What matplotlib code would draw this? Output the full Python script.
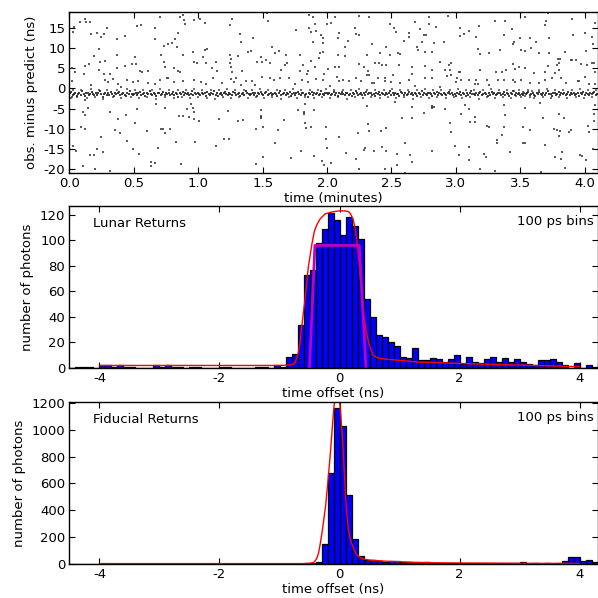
import numpy as np
import matplotlib
matplotlib.use('Agg')
import matplotlib.pyplot as plt

plt.rcParams['axes.unicode_minus'] = False
plt.rcParams['font.family'] = 'DejaVu Sans'
plt.rcParams['font.size'] = 9.5

# ---- top panel: obs. minus predict vs time (minutes) ----
# sparse background returns, (time, residual)
noise_pts = [
    (0.084, 16.5), (0.123, 17.1), (0.130, 16.4), (0.161, 16.4), (0.035, 15.3), (0.027, 14.0), (0.169, 13.5),
    (0.213, 13.8), (0.247, 12.8), (0.265, 13.4), (0.293, 14.9), (0.371, 12.2), (0.433, 13.0), (0.524, 15.5),
    (0.557, 15.7), (0.666, 15.0), (0.700, 17.6), (0.858, 17.6), (0.881, 18.1), (0.889, 16.9), (0.899, 15.9),
    (0.969, 16.9), (1.015, 17.1), (1.054, 16.1), (1.243, 15.7), (1.261, 17.1), (1.323, 13.5), (1.329, 11.4),
    (1.424, 12.4), (1.536, 18.8), (1.541, 16.8), (1.756, 14.5), (1.857, 18.3), (1.890, 17.6), (1.903, 15.9),
    (1.857, 14.9), (1.877, 14.0), (1.916, 14.3), (1.955, 13.2), (1.968, 12.4), (1.968, 11.2), (1.890, 11.4),
    (2.001, 15.9), (2.032, 16.3), (0.842, 13.8), (0.816, 12.2), (0.764, 11.0), (0.731, 10.5), (0.663, 12.2),
    (0.795, 11.2), (0.837, 10.3),
    (0.229, 9.8), (0.190, 8.1), (0.368, 8.3), (0.239, 6.5), (0.278, 6.9), (0.117, 5.6), (0.151, 6.0),
    (0.019, 5.0), (0.040, 4.1), (0.112, 3.7), (0.229, 4.6), (0.265, 3.7), (0.312, 3.7), (0.371, 5.0),
    (0.428, 5.6), (0.485, 6.0), (0.506, 7.9), (0.519, 6.0), (0.544, 4.4), (0.563, 4.0), (0.609, 4.4),
    (0.707, 8.3), (0.733, 6.6), (0.744, 5.4), (0.764, 2.5), (0.811, 5.0), (0.842, 4.4), (0.855, 4.1),
    (0.881, 8.3), (0.961, 9.1), (0.966, 6.6), (0.992, 6.2), (1.036, 7.9), (1.054, 9.5), (1.070, 9.8),
    (1.062, 6.2), (1.106, 5.0), (1.140, 6.6), (1.147, 4.4), (1.246, 8.3), (1.251, 7.3), (1.243, 6.2),
    (1.256, 5.2), (1.261, 4.1), (1.308, 8.1), (1.339, 4.4), (1.386, 9.1), (1.411, 9.3), (1.455, 6.6),
    (1.484, 7.9), (1.497, 6.6), (1.528, 7.0), (1.554, 6.2), (1.574, 10.2), (1.598, 8.7), (1.626, 9.3),
    (1.644, 4.6), (1.675, 5.8), (1.691, 6.2), (1.683, 8.4), (1.787, 8.3), (1.813, 5.8), (1.787, 4.3),
    (1.846, 3.7), (1.851, 4.4), (1.877, 6.9), (1.903, 5.2), (1.934, 7.5), (1.942, 8.7), (1.968, 9.1),
    (2.007, 4.7), (1.976, 3.5),
    (0.019, 1.8), (0.164, 0.8), (0.273, 2.1), (0.299, 1.7), (0.337, 2.3), (0.376, 1.1), (0.402, 0.4),
    (0.449, 2.1), (0.493, 1.7), (0.531, 1.9), (0.609, 1.3), (0.666, 1.1), (0.700, 2.1), (0.759, 2.5),
    (0.811, 1.7), (0.881, 1.9), (0.966, 2.1), (1.018, 1.7), (1.062, 1.1), (1.114, 2.5), (1.186, 1.3),
    (1.256, 2.3), (1.277, 1.7), (1.295, 2.5), (1.334, 0.8), (1.373, 1.8), (1.417, 1.8), (1.437, 0.8),
    (1.497, 2.9), (1.554, 2.5), (1.587, 2.2), (1.636, 2.5), (1.701, 2.5), (1.748, 1.1), (1.805, 2.2),
    (1.851, 1.7), (1.916, 2.3), (1.968, 2.1), (2.020, 0.6),
    (0.019, -2.0), (0.117, -2.9), (0.143, -4.9), (0.104, -5.8), (0.123, -6.6), (0.312, -5.8), (0.376, -7.6),
    (0.441, -6.6), (0.524, -5.1), (0.674, -3.9), (0.744, -4.8), (0.847, -6.8), (0.881, -6.8), (0.915, -5.1),
    (0.940, -3.9), (0.959, -4.9), (0.966, -5.8), (0.925, -7.0), (0.964, -7.6), (1.005, -8.1), (1.158, -7.6),
    (1.230, -5.6), (1.308, -8.0), (1.347, -7.8), (1.484, -5.3), (1.484, -7.0), (1.486, -6.7), (1.489, -7.4),
    (1.665, -7.7), (1.774, -5.3), (1.818, -5.8), (1.820, -6.2), (1.819, -6.0), (1.831, -3.9), (1.898, -5.3),
    (0.092, -9.5), (0.117, -10.0), (0.247, -12.0), (0.356, -10.3), (0.389, -11.1), (0.511, -8.6),
    (0.604, -10.5), (0.707, -10.1), (0.726, -10.1), (0.739, -11.1), (0.777, -10.0), (1.199, -12.4),
    (1.238, -12.4), (1.450, -10.0), (1.502, -9.5), (1.618, -10.3), (1.826, -8.6), (1.839, -9.9),
    (1.872, -9.6), (1.994, -9.5), (1.994, -12.4), (0.027, -14.2), (0.053, -15.4), (0.156, -16.5),
    (0.187, -16.5), (0.216, -15.0), (0.260, -15.7), (0.449, -12.9), (0.493, -15.1), (0.537, -16.1),
    (0.687, -14.8), (0.829, -13.2), (0.971, -13.2), (1.140, -14.2), (1.502, -16.9), (1.593, -13.6),
    (1.722, -17.3), (1.800, -15.6), (1.898, -16.7), (2.001, -14.8), (1.960, -17.9), (1.976, -19.0),
    (2.032, -18.4), (0.104, -19.2), (0.195, -19.9), (0.312, -20.4), (0.635, -18.3), (0.661, -18.5),
    (0.635, -19.2), (0.868, -18.7), (1.450, -18.7),
    (2.064, 17.8), (2.250, 17.9), (2.323, 17.6), (2.491, 15.9), (2.517, 14.9), (2.537, 14.0), (2.680, 16.5),
    (2.789, 17.6), (2.789, 15.9), (2.750, 13.2), (2.770, 13.2), (2.737, 11.6), (2.724, 14.7), (2.848, 15.3),
    (2.939, 18.0), (3.029, 14.9), (3.029, 13.0), (3.060, 13.6), (3.099, 14.3), (3.156, 12.8), (3.177, 15.4),
    (3.306, 16.8), (3.384, 16.8), (3.371, 13.2), (3.436, 14.6), (3.448, 11.4), (3.500, 12.4), (3.578, 12.4),
    (3.534, 17.6), (3.715, 18.7), (3.699, 16.8), (3.694, 15.7), (3.720, 12.4), (3.901, 17.2), (3.907, 13.2),
    (4.005, 13.8), (4.057, 12.8), (4.077, 16.3), (4.064, 10.9), (2.090, 13.8), (2.085, 12.4), (2.162, 11.8),
    (2.219, 14.9), (2.224, 13.6), (2.245, 13.2), (2.085, 8.3), (2.142, 10.3), (2.142, 8.0), (2.310, 8.3),
    (2.349, 11.0), (2.408, 8.7), (2.457, 10.3), (2.491, 8.3), (2.548, 8.7), (2.569, 8.5), (2.594, 11.8),
    (2.633, 13.8), (2.638, 12.8), (2.698, 10.3), (2.706, 9.5), (2.757, 9.1), (2.814, 9.1), (2.827, 11.2),
    (2.905, 11.4), (3.169, 9.8), (3.185, 8.5), (3.254, 8.7), (3.345, 9.5), (3.443, 10.9), (3.508, 9.5),
    (3.539, 9.3), (3.586, 9.9), (3.625, 11.6), (3.643, 8.7), (3.725, 8.7), (3.793, 7.4), (3.811, 7.2),
    (3.850, 9.1), (3.896, 7.0), (3.935, 7.0), (4.010, 9.3), (4.057, 6.2), (4.072, 6.4),
    (2.064, 5.4), (2.090, 5.2), (2.250, 6.0), (2.289, 5.4), (2.318, 4.4), (2.374, 6.2), (2.400, 6.4),
    (2.426, 5.8), (2.457, 5.8), (2.556, 5.8), (2.659, 5.4), (2.757, 5.5), (2.814, 4.6), (2.874, 6.5),
    (2.913, 4.6), (2.944, 5.8), (2.965, 6.2), (2.957, 4.6), (3.021, 4.1), (3.034, 4.1), (3.185, 4.6),
    (3.311, 4.0), (3.358, 4.1), (3.389, 4.6), (3.443, 6.0), (3.456, 4.8), (3.487, 5.2), (3.539, 5.0),
    (3.604, 3.9), (3.694, 4.1), (3.715, 5.5), (3.767, 3.9), (3.798, 4.6), (3.785, 5.8), (3.803, 6.2),
    (3.901, 7.0), (3.974, 6.0), (4.015, 5.8), (4.083, 4.1), (2.077, 2.9), (2.090, 1.9), (2.121, 2.1),
    (2.167, 1.9), (2.224, 2.5), (2.266, 1.9), (2.310, 3.3), (2.323, 3.3), (2.349, 1.3), (2.367, 1.4),
    (2.395, 2.5), (2.447, 1.8), (2.452, 2.5), (2.499, 1.7), (2.509, 3.3), (2.569, 1.4), (2.633, 2.1),
    (2.659, 3.7), (2.685, 0.6), (2.757, 2.5), (2.814, 2.5), (2.879, 0.4), (2.931, 3.1), (2.965, 3.3),
    (3.009, 2.5), (3.001, 1.7), (3.042, 2.2), (3.099, 2.2), (3.146, 1.1), (3.156, 2.2), (3.172, 1.1),
    (3.241, 2.2), (3.254, 0.8), (3.324, 2.1), (3.371, 2.1), (3.443, 2.1), (3.456, 1.7), (3.508, 2.2),
    (3.578, 1.3), (3.648, 1.4), (3.694, 2.1), (3.746, 2.5), (3.819, 2.5), (3.857, 1.3), (3.948, 1.9),
    (3.958, 1.9), (4.005, 2.9), (4.036, 1.1), (4.083, 1.1),
    (2.090, -11.9), (2.310, -4.3), (2.318, -8.9), (2.323, -10.5), (2.240, -11.0), (2.421, -10.5),
    (2.460, -9.7), (2.530, -3.4), (2.581, -7.4), (2.659, -4.7), (2.659, -7.4), (2.750, -6.0),
    (2.814, -4.3), (2.816, -4.6), (2.818, -4.9), (2.827, -4.5), (2.918, -5.1), (2.957, -8.6), (2.962, -10.7),
    (3.073, -4.1), (3.104, -5.1), (3.151, -7.0), (3.151, -8.4), (3.042, -6.3), (3.112, -8.2), (3.241, -9.3),
    (3.254, -9.6), (3.319, -12.8), (3.319, -13.4), (3.358, -11.4), (3.371, -9.5), (3.384, -6.6),
    (3.371, -4.1), (3.534, -4.9), (3.518, -9.5), (3.578, -10.3), (3.656, -3.5), (3.674, -7.2), (3.759, -10.1),
    (3.785, -10.3), (3.798, -11.8), (3.811, -10.5), (3.798, -6.3), (3.837, -7.4), (3.896, -10.3),
    (3.881, -10.7), (4.026, -9.3), (4.031, -10.7), (4.070, -6.3), (4.070, -8.1), (4.077, -4.1),
    (2.147, -15.9), (2.224, -17.5), (2.284, -15.2), (2.297, -14.8), (2.367, -15.5), (2.426, -14.6),
    (2.457, -15.5), (2.543, -16.1), (2.607, -13.4), (2.646, -16.5), (2.659, -18.1), (2.814, -15.5),
    (2.996, -14.2), (3.021, -16.5), (3.099, -14.4), (3.099, -17.7), (3.216, -16.3), (3.236, -16.9),
    (3.306, -20.4), (3.423, -15.7), (3.521, -13.6), (3.534, -13.6), (3.689, -14.0), (3.767, -16.9),
    (3.824, -15.7), (3.819, -17.5), (3.961, -16.5), (3.979, -16.7), (4.010, -17.7), (4.064, -15.1),
    (2.250, -20.0), (2.452, -20.0), (2.543, -18.9), (2.602, -20.9), (3.190, -20.0), (3.663, -20.6),
    (3.850, -19.8),
]

# the dense band of real lunar returns near -1.3 ns
band_pts = [
    (0.004, -1.2), (0.015, -0.8), (0.024, -1.6), (0.036, -1.3), (0.045, -1.0), (0.057, -1.9), (0.066, -1.4),
    (0.077, -1.1), (0.088, -1.5), (0.097, -0.7), (0.109, -1.3), (0.118, -1.8), (0.129, -1.2), (0.141, -1.0),
    (0.150, -1.6), (0.161, -1.4), (0.172, -0.9), (0.183, -1.3), (0.192, -1.7), (0.204, -1.1), (0.213, -1.5),
    (0.225, -1.2), (0.236, -0.6), (0.245, -1.4), (0.257, -2.0), (0.268, -1.3), (0.277, -1.0), (0.289, -1.6),
    (0.298, -1.2), (0.310, -1.5), (0.321, -0.9), (0.330, -1.3), (0.342, -1.8), (0.353, -1.1), (0.362, -1.4),
    (0.374, -1.2), (0.385, -0.8), (0.394, -1.6), (0.406, -1.3), (0.417, -1.0), (0.428, -1.5), (0.437, -1.9),
    (0.449, -1.2), (0.460, -1.4), (0.471, -0.7), (0.482, -1.3), (0.493, -1.6),
    (0.504, -1.4), (0.515, -1.1), (0.526, -1.7), (0.535, -1.2), (0.547, -0.9), (0.558, -1.5), (0.567, -1.3),
    (0.579, -1.0), (0.590, -1.8), (0.599, -1.2), (0.611, -1.4), (0.622, -0.7), (0.631, -1.3), (0.643, -1.6),
    (0.654, -1.1), (0.663, -1.4), (0.675, -1.9), (0.686, -1.2), (0.695, -1.0), (0.707, -1.5), (0.718, -1.3),
    (0.727, -0.8), (0.739, -1.6), (0.750, -1.2), (0.761, -1.4), (0.770, -1.1), (0.782, -1.7), (0.793, -1.3),
    (0.802, -0.9), (0.814, -1.5), (0.825, -1.2), (0.834, -1.4), (0.846, -2.0), (0.857, -1.1), (0.866, -1.3),
    (0.878, -0.8), (0.889, -1.6), (0.898, -1.2), (0.910, -1.4), (0.921, -1.0), (0.930, -1.5), (0.942, -1.3),
    (0.953, -0.7), (0.962, -1.7), (0.974, -1.2), (0.985, -1.4), (0.994, -1.1),
    (1.006, -1.3), (1.017, -1.6), (1.026, -1.0), (1.038, -1.4), (1.049, -1.2), (1.058, -1.8), (1.070, -0.9),
    (1.081, -1.3), (1.090, -1.5), (1.102, -1.1), (1.113, -1.4), (1.122, -0.7), (1.134, -1.6), (1.145, -1.2),
    (1.154, -1.9), (1.166, -1.3), (1.177, -1.0), (1.186, -1.5), (1.198, -1.2), (1.209, -0.8), (1.218, -1.4),
    (1.230, -1.7), (1.241, -1.1), (1.250, -1.3), (1.262, -1.5), (1.273, -0.9), (1.282, -1.2), (1.294, -1.6),
    (1.305, -1.4), (1.314, -1.0), (1.326, -1.8), (1.337, -1.3), (1.346, -1.1), (1.358, -1.5), (1.369, -0.6),
    (1.378, -1.2), (1.390, -1.4), (1.401, -1.7), (1.410, -1.3), (1.422, -1.0), (1.433, -1.5), (1.442, -1.2),
    (1.454, -1.9), (1.465, -1.1), (1.474, -1.4), (1.486, -0.8), (1.497, -1.3),
    (1.506, -1.5), (1.518, -1.2), (1.529, -0.9), (1.538, -1.6), (1.550, -1.3), (1.561, -1.1), (1.570, -1.7),
    (1.582, -1.4), (1.593, -1.0), (1.602, -1.3), (1.614, -1.8), (1.625, -1.2), (1.634, -0.7), (1.646, -1.5),
    (1.657, -1.3), (1.666, -1.1), (1.678, -1.6), (1.689, -1.2), (1.698, -1.4), (1.710, -0.9), (1.721, -1.9),
    (1.730, -1.3), (1.742, -1.1), (1.753, -1.5), (1.762, -1.2), (1.774, -0.8), (1.785, -1.4), (1.794, -1.7),
    (1.806, -1.2), (1.817, -1.0), (1.826, -1.5), (1.838, -1.3), (1.849, -2.0), (1.858, -1.1), (1.870, -1.4),
    (1.881, -0.9), (1.890, -1.6), (1.902, -1.2), (1.913, -1.3), (1.922, -1.0), (1.934, -1.7), (1.945, -1.4),
    (1.954, -0.7), (1.966, -1.3), (1.977, -1.5), (1.986, -1.2), (1.998, -1.1),
    (2.009, -1.4), (2.018, -1.0), (2.030, -1.6), (2.041, -1.3), (2.050, -0.8), (2.062, -1.5), (2.073, -1.2),
    (2.082, -1.8), (2.094, -1.1), (2.105, -1.4), (2.114, -0.9), (2.126, -1.3), (2.137, -1.6), (2.146, -1.2),
    (2.158, -1.0), (2.169, -1.5), (2.178, -1.3), (2.190, -1.9), (2.201, -1.1), (2.210, -1.4), (2.222, -0.7),
    (2.233, -1.2), (2.242, -1.6), (2.254, -1.3), (2.265, -1.0), (2.274, -1.5), (2.286, -1.2), (2.297, -1.7),
    (2.306, -0.9), (2.318, -1.4), (2.329, -1.2), (2.338, -1.0), (2.350, -1.6), (2.361, -1.3), (2.370, -1.8),
    (2.382, -1.1), (2.393, -1.4), (2.402, -0.8), (2.414, -1.5), (2.425, -1.2), (2.434, -1.3), (2.446, -1.7),
    (2.457, -1.0), (2.466, -1.4), (2.478, -1.2), (2.489, -0.6), (2.498, -1.5),
    (2.510, -1.2), (2.521, -1.6), (2.530, -1.0), (2.542, -1.4), (2.553, -1.3), (2.562, -1.8), (2.574, -0.9),
    (2.585, -1.2), (2.594, -1.5), (2.606, -1.1), (2.617, -1.7), (2.626, -1.3), (2.638, -0.8), (2.649, -1.4),
    (2.658, -1.2), (2.670, -1.6), (2.681, -1.0), (2.690, -1.3), (2.702, -1.9), (2.713, -1.2), (2.722, -1.4),
    (2.734, -0.7), (2.745, -1.5), (2.754, -1.1), (2.766, -1.3), (2.777, -1.6), (2.786, -1.2), (2.798, -1.0),
    (2.809, -1.4), (2.818, -1.8), (2.830, -1.1), (2.841, -1.3), (2.850, -0.9), (2.862, -1.5), (2.873, -1.2),
    (2.882, -1.4), (2.894, -1.7), (2.905, -1.0), (2.914, -1.3), (2.926, -1.6), (2.937, -1.2), (2.946, -0.8),
    (2.958, -1.4), (2.969, -1.1), (2.978, -1.5), (2.990, -1.3), (2.998, -1.9),
    (3.010, -1.1), (3.022, -1.4), (3.031, -0.9), (3.043, -1.6), (3.054, -1.2), (3.063, -1.3), (3.075, -1.8),
    (3.086, -1.0), (3.095, -1.5), (3.107, -1.2), (3.118, -0.7), (3.127, -1.4), (3.139, -1.3), (3.150, -1.7),
    (3.159, -1.1), (3.171, -1.5), (3.182, -1.2), (3.191, -0.9), (3.203, -1.6), (3.214, -1.3), (3.223, -1.0),
    (3.235, -1.4), (3.246, -1.9), (3.255, -1.2), (3.267, -1.5), (3.278, -0.8), (3.287, -1.3), (3.299, -1.1),
    (3.310, -1.6), (3.319, -1.4), (3.331, -1.0), (3.342, -1.2), (3.351, -1.7), (3.363, -1.3), (3.374, -0.9),
    (3.383, -1.5), (3.395, -1.2), (3.406, -1.4), (3.415, -1.8), (3.427, -1.1), (3.438, -1.3), (3.447, -0.7),
    (3.459, -1.6), (3.470, -1.2), (3.479, -1.4), (3.491, -1.0), (3.499, -1.5),
    (3.511, -1.3), (3.520, -1.7), (3.532, -1.0), (3.543, -1.4), (3.552, -1.2), (3.564, -0.8), (3.575, -1.6),
    (3.584, -1.3), (3.596, -1.1), (3.607, -1.5), (3.616, -1.9), (3.628, -1.2), (3.639, -1.4), (3.648, -0.9),
    (3.660, -1.3), (3.671, -1.6), (3.680, -1.1), (3.692, -1.5), (3.703, -1.2), (3.712, -0.7), (3.724, -1.4),
    (3.735, -1.3), (3.744, -1.8), (3.756, -1.0), (3.767, -1.2), (3.776, -1.5), (3.788, -1.3), (3.799, -0.9),
    (3.808, -1.6), (3.820, -1.2), (3.831, -1.4), (3.840, -1.1), (3.852, -1.7), (3.863, -1.3), (3.872, -0.8),
    (3.884, -1.5), (3.895, -1.2), (3.904, -1.4), (3.916, -1.0), (3.927, -1.6), (3.936, -1.3), (3.948, -1.2),
    (3.959, -1.9), (3.968, -1.1), (3.980, -1.4), (3.991, -0.9), (4.000, -1.5), (4.012, -1.2), (4.023, -1.3),
    (4.032, -1.7), (4.044, -1.0), (4.055, -1.4), (4.064, -1.2), (4.076, -0.8), (4.087, -1.5), (4.096, -1.3),
]

# looser returns around the edges of the band
band_edge_pts = [
    (0.010, -2.3), (0.030, -0.3), (0.061, -2.1), (0.092, -0.4), (0.135, -2.4), (0.166, -0.2), (0.198, -2.2),
    (0.230, -0.5), (0.262, -2.5), (0.294, -0.3), (0.337, -2.1), (0.368, -0.4), (0.400, -2.3), (0.443, -0.2),
    (0.476, -2.2), (0.509, -0.5), (0.540, -2.4), (0.573, -0.3), (0.605, -2.2), (0.637, -0.4), (0.669, -2.5),
    (0.701, -0.2), (0.744, -2.1), (0.776, -0.5), (0.808, -2.3), (0.840, -0.3), (0.872, -2.2), (0.904, -0.4),
    (0.936, -2.4), (0.968, -0.2), (1.000, -2.1), (1.032, -0.5), (1.064, -2.3), (1.096, -0.3), (1.128, -2.5),
    (1.160, -0.4), (1.192, -2.2), (1.224, -0.2), (1.256, -2.4), (1.288, -0.5), (1.320, -2.1), (1.352, -0.3),
    (1.384, -2.3), (1.416, -0.4), (1.448, -2.2), (1.480, -0.2), (1.512, -2.4), (1.544, -0.5), (1.576, -2.1),
    (1.608, -0.3), (1.640, -2.5), (1.672, -0.4), (1.704, -2.2), (1.736, -0.2), (1.768, -2.3), (1.800, -0.5),
    (1.832, -2.1), (1.864, -0.3), (1.896, -2.4), (1.928, -0.4), (1.960, -2.2), (1.992, -0.2), (2.024, -2.3),
    (2.056, -0.5), (2.088, -2.1), (2.120, -0.3), (2.152, -2.5), (2.184, -0.4), (2.216, -2.2), (2.248, -0.2),
    (2.280, -2.4), (2.312, -0.5), (2.344, -2.1), (2.376, -0.3), (2.408, -2.3), (2.440, -0.4), (2.472, -2.2),
    (2.504, -0.2), (2.536, -2.4), (2.568, -0.5), (2.600, -2.1), (2.632, -0.3), (2.664, -2.5), (2.696, -0.4),
    (2.728, -2.2), (2.760, -0.2), (2.792, -2.3), (2.824, -0.5), (2.856, -2.1), (2.888, -0.3), (2.920, -2.4),
    (2.952, -0.4), (2.984, -2.2), (3.016, -0.2), (3.048, -2.3), (3.080, -0.5), (3.112, -2.1), (3.144, -0.3),
    (3.176, -2.5), (3.208, -0.4), (3.240, -2.2), (3.272, -0.2), (3.304, -2.4), (3.336, -0.5), (3.368, -2.1),
    (3.400, -0.3), (3.432, -2.3), (3.455, -0.6), (3.470, -1.9), (3.488, -0.4), (3.505, -2.2), (3.522, -0.9),
    (3.540, -1.8), (3.558, -0.5), (3.575, -2.0), (3.592, -0.7), (3.610, -2.4), (3.642, -0.4), (3.674, -2.2),
    (3.706, -0.2), (3.738, -2.3), (3.770, -0.5), (3.802, -2.1), (3.834, -0.3), (3.866, -2.4), (3.898, -0.4),
    (3.930, -2.2), (3.962, -0.2), (3.994, -2.3), (4.026, -0.5), (4.058, -2.1), (4.090, -0.3),
]

# ---- histograms, 100 ps bins, left edges from -4.5 to 4.3 ns ----
bin_left = np.round(np.arange(-4.5, 4.35, 0.1), 1)

lunar_counts = [
    0, 1, 1, 1, 0, 2, 2, 1, 2, 1, 1, 0, 0, 0, 2, 1, 2, 1,        # -4.5 .. -2.8
    1, 0, 1, 1, 0, 0, 0, 1, 1, 0, 0, 0, 0, 1, 1, 0, 2, 1,        # -2.7 .. -1.0
    9, 11, 34, 73, 77, 98, 109, 121, 116,                        # -0.9 .. -0.1
    104, 118, 111, 101, 54, 40, 26, 24, 20, 17,                  # 0.0 .. 0.9
    9, 8, 16, 6, 6, 8, 7, 5, 7, 10,                              # 1.0 .. 1.9
    3, 9, 5, 4, 7, 9, 5, 8, 5, 7,                                # 2.0 .. 2.9
    5, 3, 2, 6, 6, 7, 5, 2, 0, 4,                                # 3.0 .. 3.9
    0, 2, 1, 4,                                                  # 4.0 .. 4.3
]

fiducial_counts = [
    3, 2, 2, 1, 3, 2, 1, 2, 3, 1, 2, 2, 1, 3, 2, 1, 2, 2,        # -4.5 .. -2.8
    1, 3, 2, 1, 2, 2, 1, 3, 2, 1, 2, 3, 2, 1, 2, 3, 2, 2,        # -2.7 .. -1.0
    3, 2, 3, 4, 5, 15, 150, 680, 1160,                           # -0.9 .. -0.1
    1030, 515, 184, 62, 32, 27, 25, 18, 20, 20,                  # 0.0 .. 0.9
    15, 12, 8, 6, 12, 6, 5, 6, 5, 7,                             # 1.0 .. 1.9
    6, 5, 6, 4, 10, 10, 5, 10, 10, 4,                            # 2.0 .. 2.9
    15, 3, 4, 3, 4, 3, 10, 25, 55, 55,                           # 3.0 .. 3.9
    25, 30, 17, 8,                                               # 4.0 .. 4.3
]

# fitted model curves
lunar_fit_x = [-4.0, -1.0, -0.85, -0.78, -0.74, -0.70, -0.66, -0.63, -0.60, -0.57, -0.52, -0.46, -0.42,
               -0.38, -0.32, -0.24, -0.13, -0.02, 0.09, 0.15, 0.18, 0.23, 0.26, 0.29, 0.32, 0.37, 0.41,
               0.45, 0.51, 0.56, 0.64, 0.75, 1.0, 1.3, 1.8, 2.4, 2.9, 3.5, 4.0]
lunar_fit_y = [2.0, 2.0, 2.3, 3.0, 4.5, 9, 19, 32, 44, 56, 79, 97, 107,
               112, 117, 120.7, 122.2, 123, 123, 122.5, 121, 116, 109, 100, 85, 61, 40,
               27, 16, 10, 7.8, 7.0, 6.0, 4.7, 3.9, 3.0, 2.4, 1.7, 1.0]

# flat-top response used for the lunar returns
lunar_box_x = [-0.50, -0.41, 0.33, 0.44]
lunar_box_y = [0, 96, 96, 0]

fid_fit_x = [-4.0, -0.6, -0.5, -0.45, -0.42, -0.38, -0.35, -0.32, -0.28, -0.23, -0.19, -0.15, -0.12,
             -0.094, -0.07, -0.04, -0.02, 0.0, 0.017, 0.035, 0.056, 0.08, 0.1, 0.12, 0.144, 0.175,
             0.21, 0.25, 0.29, 0.34, 0.4, 0.5, 0.63, 0.8, 1.2, 1.6, 2.0, 3.0, 4.0]
fid_fit_y = [3, 3, 5, 9, 15, 40, 80, 153, 270, 440, 630, 838, 1020,
             1162, 1260, 1300, 1280, 1220, 1138, 1020, 889, 690, 515, 380, 267, 195,
             142, 98, 67, 48, 37, 29, 25, 20, 13, 9, 7, 5, 4]

fig = plt.figure(figsize=(5.98, 5.98), dpi=100)
ax1 = fig.add_axes([0.1162, 0.7102, 0.883, 0.2702])
ax2 = fig.add_axes([0.1162, 0.3846, 0.883, 0.2712])
ax3 = fig.add_axes([0.1162, 0.0569, 0.883, 0.2714])

nt, nv = zip(*noise_pts)
bt, bv = zip(*band_pts)
et, ev = zip(*band_edge_pts)
ax1.plot(nt, nv, 's', color='0.25', markersize=1.5, markeredgewidth=0, alpha=0.85)
ax1.plot(et, ev, 's', color='0.3', markersize=1.5, markeredgewidth=0, alpha=0.8)
ax1.plot(bt, bv, 's', color='0.12', markersize=1.9, markeredgewidth=0, alpha=0.85)
ax1.set_xlim(0, 4.1)
ax1.set_ylim(-21, 19)
ax1.set_xticks([0.0, 0.5, 1.0, 1.5, 2.0, 2.5, 3.0, 3.5, 4.0])
ax1.set_xticklabels(['%.1f' % v for v in ax1.get_xticks()])
ax1.set_yticks([-20, -15, -10, -5, 0, 5, 10, 15])
ax1.set_xlabel('time (minutes)', labelpad=1)
ax1.set_ylabel('obs. minus predict (ns)')

for ax, counts in [(ax2, lunar_counts), (ax3, fiducial_counts)]:
    ax.bar(bin_left, counts, width=0.1, align='edge', color='#0000ff',
           edgecolor='black', linewidth=0.9)
    ax.set_xlim(-4.5, 4.3)
    ax.set_xticks([-4, -2, 0, 2, 4])
    ax.set_xlabel('time offset (ns)', labelpad=1)
    ax.set_ylabel('number of photons')
    ax.text(0.993, 0.905, '100 ps bins', transform=ax.transAxes, ha='right', va='center')

ax2.plot(lunar_fit_x, lunar_fit_y, color='red', linewidth=1.0)
ax2.plot(lunar_box_x, lunar_box_y, color='#bf00bf', linewidth=2.0)
ax2.set_ylim(0, 127)
ax2.set_yticks([0, 20, 40, 60, 80, 100, 120])
ax2.text(0.045, 0.89, 'Lunar Returns', transform=ax2.transAxes, ha='left', va='center')

ax3.plot(fid_fit_x, fid_fit_y, color='red', linewidth=1.0)
ax3.set_ylim(0, 1210)
ax3.set_yticks([0, 200, 400, 600, 800, 1000, 1200])
ax3.text(0.045, 0.89, 'Fiducial Returns', transform=ax3.transAxes, ha='left', va='center')

for ax in (ax1, ax2, ax3):
    ax.tick_params(direction='in', top=True, right=True, length=4, width=0.8, pad=3)
    for s in ax.spines.values():
        s.set_linewidth(1.0)

fig.savefig('out.png', dpi=100)
